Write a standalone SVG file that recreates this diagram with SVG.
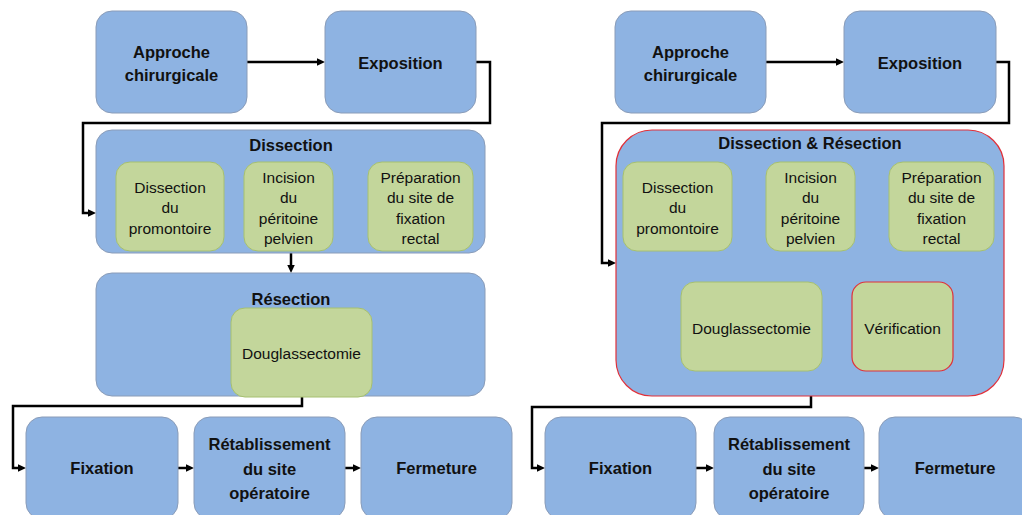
<svg xmlns="http://www.w3.org/2000/svg" width="1022" height="515" viewBox="0 0 1022 515">
<defs>
<style>
.b{fill:#8eb3e2;stroke:#8a9cb8;stroke-width:1}
.c{fill:#8eb3e2;stroke:#e0303a;stroke-width:1.2}
.g{fill:#c3d69b;stroke:#a6c070;stroke-width:1}
.gr{fill:#c3d69b;stroke:#e0303a;stroke-width:1.2}
.t{font-family:"Liberation Sans",Arial,sans-serif;font-weight:bold;font-size:16.5px;fill:#111;text-anchor:middle;dominant-baseline:central}
.s{font-family:"Liberation Sans",Arial,sans-serif;font-size:15.5px;fill:#111;text-anchor:middle;dominant-baseline:central}
.k{fill:none;stroke:#000;stroke-width:2.5;marker-end:url(#ah)}
</style>
<marker id="ah" markerUnits="userSpaceOnUse" markerWidth="9" markerHeight="8" refX="2" refY="3.75" orient="auto"><path d="M0,0 L8,3.75 L0,7.5 z" fill="#000"/></marker>
</defs>
<rect width="1022" height="515" fill="#fff"/>
<g id="connectors">
<path class="k" d="M247,62 H319"/>
<path class="k" d="M476,62 H490 V123 H83 V213 H90"/>
<path class="k" d="M291,253 V267"/>
<path class="k" d="M302,397 V406 H13 V468 H20"/>
<path class="k" d="M178,468 H188"/>
<path class="k" d="M345,468 H355"/>
<path class="k" d="M766,62 H838"/>
<path class="k" d="M996,62 H1009 V123 H602 V263 H610"/>
<path class="k" d="M811,396 V407 H532 V468 H539"/>
<path class="k" d="M696,468 H708"/>
<path class="k" d="M864,468 H873"/>
</g>
<g id="L-approche"><rect class="b" x="96" y="11" width="151" height="102" rx="16"/><text class="t" x="171.5" y="52">Approche</text><text class="t" x="171.5" y="75">chirurgicale</text></g>
<g id="L-exposition"><rect class="b" x="325" y="11" width="151" height="102" rx="16"/><text class="t" x="400.5" y="63">Exposition</text></g>
<g id="L-dissection"><rect class="b" x="96" y="130" width="389" height="123" rx="16"/><text class="t" x="291" y="145">Dissection</text>
<g id="L-promontoire"><rect class="g" x="116" y="162" width="108" height="89" rx="14"/><text class="s" x="170" y="187">Dissection</text><text class="s" x="170" y="207.5">du</text><text class="s" x="170" y="228">promontoire</text></g>
<g id="L-incision"><rect class="g" x="244" y="162" width="89" height="89" rx="14"/><text class="s" x="288.5" y="177">Incision</text><text class="s" x="288.5" y="197.5">du</text><text class="s" x="288.5" y="218">péritoine</text><text class="s" x="288.5" y="238.5">pelvien</text></g>
<g id="L-preparation"><rect class="g" x="368" y="162" width="105" height="89" rx="14"/><text class="s" x="420.5" y="177">Préparation</text><text class="s" x="420.5" y="197.5">du site de</text><text class="s" x="420.5" y="218">fixation</text><text class="s" x="420.5" y="238.5">rectal</text></g>
</g>
<g id="L-resection"><rect class="b" x="96" y="273" width="389" height="123" rx="16"/><text class="t" x="291" y="299">Résection</text>
<g id="L-douglas"><rect class="g" x="231" y="308" width="141" height="89" rx="14"/><text class="s" x="301.5" y="353">Douglassectomie</text></g>
</g>
<g id="L-fixation"><rect class="b" x="26" y="417" width="152" height="102" rx="16"/><text class="t" x="102" y="468">Fixation</text></g>
<g id="L-retablissement"><rect class="b" x="194" y="417" width="151" height="102" rx="16"/><text class="t" x="269.5" y="444">Rétablissement</text><text class="t" x="269.5" y="468.5">du site</text><text class="t" x="269.5" y="493">opératoire</text></g>
<g id="L-fermeture"><rect class="b" x="361" y="417" width="151" height="102" rx="16"/><text class="t" x="436.5" y="468">Fermeture</text></g>

<g id="R-approche"><rect class="b" x="615" y="11" width="151" height="102" rx="16"/><text class="t" x="690.5" y="52">Approche</text><text class="t" x="690.5" y="75">chirurgicale</text></g>
<g id="R-exposition"><rect class="b" x="844" y="11" width="152" height="102" rx="16"/><text class="t" x="920" y="63">Exposition</text></g>
<g id="R-dissection-resection"><rect class="c" x="616" y="130" width="388" height="266" rx="36"/><text class="t" x="810" y="143">Dissection &amp; Résection</text>
<g id="R-promontoire"><rect class="g" x="623" y="162" width="109" height="89" rx="14"/><text class="s" x="677.5" y="187">Dissection</text><text class="s" x="677.5" y="207.5">du</text><text class="s" x="677.5" y="228">promontoire</text></g>
<g id="R-incision"><rect class="g" x="766" y="162" width="89" height="89" rx="14"/><text class="s" x="810.5" y="177">Incision</text><text class="s" x="810.5" y="197.5">du</text><text class="s" x="810.5" y="218">péritoine</text><text class="s" x="810.5" y="238.5">pelvien</text></g>
<g id="R-preparation"><rect class="g" x="889" y="162" width="105" height="89" rx="14"/><text class="s" x="941.5" y="177">Préparation</text><text class="s" x="941.5" y="197.5">du site de</text><text class="s" x="941.5" y="218">fixation</text><text class="s" x="941.5" y="238.5">rectal</text></g>
<g id="R-douglas"><rect class="g" x="681" y="282" width="141" height="89" rx="14"/><text class="s" x="751.5" y="328">Douglassectomie</text></g>
<g id="R-verification"><rect class="gr" x="852" y="282" width="101" height="89" rx="14"/><text class="s" x="902.5" y="328">Vérification</text></g>
</g>
<g id="R-fixation"><rect class="b" x="545" y="417" width="151" height="102" rx="16"/><text class="t" x="620.5" y="468">Fixation</text></g>
<g id="R-retablissement"><rect class="b" x="714" y="417" width="150" height="102" rx="16"/><text class="t" x="789" y="444">Rétablissement</text><text class="t" x="789" y="468.5">du site</text><text class="t" x="789" y="493">opératoire</text></g>
<g id="R-fermeture"><rect class="b" x="879" y="417" width="151" height="102" rx="16"/><text class="t" x="955" y="468">Fermeture</text></g>
</svg>
